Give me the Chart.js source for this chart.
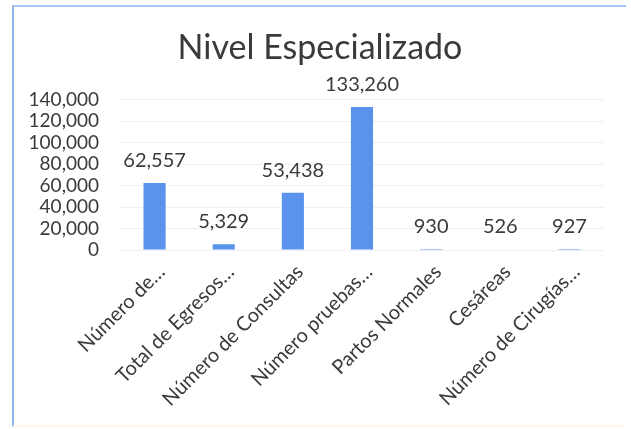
<!DOCTYPE html>
<html>
<head>
<meta charset="utf-8">
<script src="https://cdn.jsdelivr.net/npm/chart.js@4.4.1/dist/chart.umd.min.js"></script>
<style>
  html, body { margin:0; padding:0; background:#fff; }
  #wrap { position:relative; width:631px; height:429px; }
  #frame { position:absolute; left:12px; top:5px; right:5px; bottom:2px;
           border-left:2px solid #8db6ef; border-top:2px solid #a9c6f2;
           border-bottom:2px solid #fdf6e4; pointer-events:none; }
  canvas { position:absolute; left:0; top:0; }
</style>
</head>
<body>
<div id="wrap">
  <canvas id="chart" width="631" height="429"></canvas>
  <div id="frame"></div>
</div>
<script>
const title = "Nivel Especializado";
const categories = ["Número de…", "Total de Egresos…", "Número de Consultas", "Número pruebas…",
                    "Partos Normales", "Cesáreas", "Número de Cirugías…"];
const values = [62557, 5329, 53438, 133260, 930, 526, 927];
const yTicks = [0, 20000, 40000, 60000, 80000, 100000, 120000, 140000];

const fontFam = "Lato, 'Open Sans', sans-serif";
const textColor = "#3a3a3a";

// value labels above each bar
const valueLabels = {
  id: "valueLabels",
  afterDatasetsDraw(chart) {
    const ctx = chart.ctx;
    const meta = chart.getDatasetMeta(0);
    ctx.save();
    ctx.font = "20px " + fontFam;
    ctx.fillStyle = textColor;
    ctx.textAlign = "center";
    ctx.textBaseline = "alphabetic";
    meta.data.forEach((bar, i) => {
      ctx.fillText(values[i].toLocaleString("en-US"), bar.x, bar.y - 16);
    });
    ctx.restore();
  }
};

new Chart(document.getElementById("chart"), {
  type: "bar",
  data: {
    labels: categories,
    datasets: [{ data: values, backgroundColor: "#5a93ec", barPercentage: 0.64, categoryPercentage: 0.5 }]
  },
  options: {
    responsive: false,
    animation: false,
    layout: { padding: { left: 9, right: 0, top: 0, bottom: 0 } },
    plugins: {
      legend: { display: false },
      tooltip: { enabled: false },
      title: {
        display: true, text: title, color: textColor,
        font: { family: fontFam, size: 34, weight: "normal" },
        padding: { top: 28, bottom: 31 }
      }
    },
    scales: {
      x: {
        grid: { display: false, drawTicks: false },
        border: { display: false },
        ticks: {
          color: textColor, font: { family: fontFam, size: 20 },
          minRotation: 45, maxRotation: 45, padding: 10, labelOffset: 7, autoSkip: false
        },
        afterFit(s) { s.height = 179; }
      },
      y: {
        min: 0, max: 140000,
        grid: { color: "#f0f0f0", drawTicks: false },
        border: { display: false },
        ticks: {
          color: textColor, font: { family: fontFam, size: 19 }, padding: 21,
          stepSize: 20000, autoSkip: false,
          callback: v => yTicks.includes(v) ? v.toLocaleString("en-US") : ""
        },
        afterFit(s) { s.width = 111; }
      },
      yRight: {
        position: "right",
        grid: { display: false, drawTicks: false },
        border: { display: false },
        ticks: { display: false },
        afterFit(s) { s.width = 27; }
      }
    }
  },
  plugins: [valueLabels]
});
</script>
</body>
</html>
